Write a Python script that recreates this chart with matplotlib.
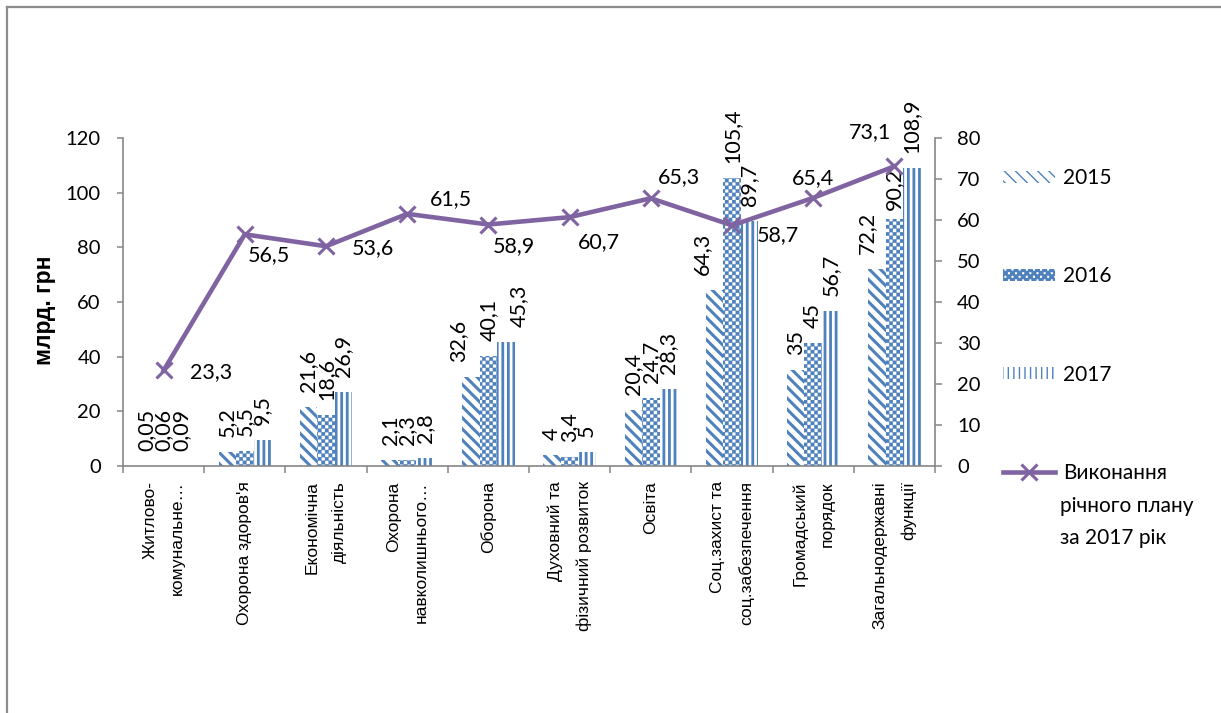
import warnings
import numpy as np
import matplotlib
matplotlib.use("Agg")
import matplotlib.pyplot as plt
import matplotlib.hatch as mhatch
from matplotlib.path import Path
from matplotlib.lines import Line2D

warnings.filterwarnings("ignore")

# ---- data -------------------------------------------------------------
categories = [
    "Житлово-\nкомунальне…",
    "Охорона здоров'я",
    "Економічна\nдіяльність",
    "Охорона\nнавколишнього…",
    "Оборона",
    "Духовний та\nфізичний розвиток",
    "Освіта",
    "Соц.захист та\nсоц.забезпечення",
    "Громадський\nпорядок",
    "Загальнодержавні\nфункції",
]
years = ["2015", "2016", "2017"]
v2015 = [0.05, 5.2, 21.6, 2.1, 32.6, 4, 20.4, 64.3, 35, 72.2]
v2016 = [0.06, 5.5, 18.6, 2.3, 40.1, 3.4, 24.7, 105.4, 45, 90.2]
v2017 = [0.09, 9.5, 26.9, 2.8, 45.3, 5, 28.3, 89.7, 56.7, 108.9]
plan_2017 = [23.3, 56.5, 53.6, 61.5, 58.9, 60.7, 65.3, 58.7, 65.4, 73.1]
plan_label = ["Виконання", "річного плану\nза 2017 рік"]
y_label = "млрд. грн"

# ---- styling ----------------------------------------------------------
BLUE = "#4F81BD"
PURPLE = "#8064A2"
GREY = "#868686"
NUM_FONT = ["Lato", "Open Sans", "DejaVu Sans"]
CAT_FONT = ["Liberation Sans", "DejaVu Sans"]

# label nudges in pixels: (series, category) -> (dx, dy)
bar_label_nudge = {(0, 4): (-13, 0), (2, 4): (13, 0), (0, 7): (-13, 0),
                   (0, 9): (-10, 0), (1, 9): (0, -6)}
# value label offsets (pixels) for the line points, text left-anchored
line_label_offset = [(26, -2), (3, -21), (26, -2), (23, 15), (4, -22),
                     (8, -25), (7, 21), (25, -10), (-21, 20), (-46, 34)]


class CheckerHatch(mhatch.HatchPatternBase):
    """Small checkerboard fill, selected with the 'c' hatch character."""

    def __init__(self, hatch, density):
        self.num_cells = int(hatch.count("c") * 7)
        n = self.num_cells
        self.num_vertices = (n * n // 2) * 5 if n else 0

    def set_vertices_and_codes(self, vertices, codes):
        n = self.num_cells
        s = 1.0 / n
        k = 0
        sq_codes = [Path.MOVETO, Path.LINETO, Path.LINETO, Path.LINETO,
                    Path.CLOSEPOLY]
        for i in range(n):
            for j in range(n):
                if (i + j) % 2 == 0:
                    x0, y0 = i * s, j * s
                    vertices[k:k + 5] = [(x0, y0), (x0 + s, y0),
                                         (x0 + s, y0 + s), (x0, y0 + s),
                                         (x0, y0)]
                    codes[k:k + 5] = sq_codes
                    k += 5


mhatch._hatch_types.append(CheckerHatch)

W, H = 1221, 713
fig = plt.figure(figsize=(W / 100, H / 100), dpi=100)
fig.patch.set_facecolor("white")
ax = fig.add_axes([123 / W, 1 - 466 / H, (935 - 123) / W, 328 / H])
ax2 = ax.twinx()

x = np.arange(len(categories))
width = 0.215
series = [v2015, v2016, v2017]
hatch_styles = [("\\\\\\", 2.2), ("cccc", 0.2), ("|||", 2.0)]
containers = []
for k, (vals, (hp, hlw)) in enumerate(zip(series, hatch_styles)):
    with plt.rc_context({"hatch.linewidth": hlw}):
        bars = ax.bar(x + (k - 1) * width, vals, width, facecolor="white",
                      edgecolor=BLUE, linewidth=0, hatch=hp, label=years[k])
        for b in bars:
            if hasattr(b, "set_hatch_linewidth"):
                b.set_hatch_linewidth(hlw)
    containers.append(bars)
    for i, (b, v) in enumerate(zip(bars, vals)):
        dx, dy = bar_label_nudge.get((k, i), (0, 0))
        ax.annotate(f"{v:g}".replace(".", ","),
                    xy=(b.get_x() + b.get_width() / 2, v),
                    xytext=(dx, 15 + dy), textcoords="offset pixels",
                    rotation=90, ha="center", va="bottom",
                    fontsize=15.5, family=NUM_FONT, color="black")

line, = ax2.plot(x, plan_2017, color=PURPLE, lw=3.3, marker="x", ms=11,
                 mew=2.2, zorder=5)
for xi, v, (dx, dy) in zip(x, plan_2017, line_label_offset):
    ax2.annotate(f"{v:g}".replace(".", ","), xy=(xi, v), xytext=(dx, dy),
                 textcoords="offset pixels", ha="left", va="center",
                 fontsize=15.5, family=NUM_FONT, color="black")

# axes
ax.set_xlim(-0.5, len(categories) - 0.5)
ax.set_ylim(0, 120)
ax2.set_ylim(0, 80)
ax.set_yticks(range(0, 121, 20))
ax2.set_yticks(range(0, 81, 10))
ax.set_xticks(x)
ax.set_xticklabels(categories, rotation=90, ha="center", va="top",
                   multialignment="right", linespacing=2.05, fontsize=12.5,
                   family=CAT_FONT)
ax.set_xticks(np.arange(-0.5, len(categories), 1), minor=True)
ax.tick_params(axis="x", which="major", length=0, pad=11)
ax.tick_params(axis="x", which="minor", length=5, width=1.1, color=GREY,
               direction="out")
ax.tick_params(axis="y", length=4, width=1.1, color=GREY, pad=12,
               labelsize=14.5)
ax2.tick_params(axis="y", length=5, width=1.1, color=GREY, pad=11,
                labelsize=14.5)
for lab in ax.get_yticklabels() + ax2.get_yticklabels():
    lab.set_family(NUM_FONT)

for a in (ax, ax2):
    for s in a.spines.values():
        s.set_visible(False)
ax.spines["left"].set_visible(True)
ax.spines["bottom"].set_visible(True)
ax2.spines["right"].set_visible(True)
for s in (ax.spines["left"], ax.spines["bottom"], ax2.spines["right"]):
    s.set_color(GREY)
    s.set_linewidth(1.2)

fig.text(45 / W, 1 - 310 / H, y_label, rotation=90, ha="center",
         va="center", fontsize=16.5, fontweight="bold", family=CAT_FONT)

# legend
leg = ax.legend(containers + [line], years + [plan_label[0]],
                loc="upper left", bbox_to_anchor=(1003 / W, 1 - 168 / H),
                bbox_transform=fig.transFigure, frameon=False,
                borderpad=0, borderaxespad=0, handlelength=2.5,
                handleheight=0.5, handletextpad=0.4, labelspacing=3.76,
                prop={"family": NUM_FONT, "size": 15})
fig.text(1060 / W, 1 - 496 / H, plan_label[1], ha="left", va="top",
         fontsize=15, family=NUM_FONT, linespacing=1.77)

# outer frame of the chart area
frame_kw = dict(transform=fig.transFigure, color="#8c8c8c", lw=1.6)
fig.add_artist(Line2D([7.5 / W, 7.5 / W], [0, 1 - 6.5 / H], **frame_kw))
fig.add_artist(Line2D([7.5 / W, 1], [1 - 6.5 / H, 1 - 6.5 / H], **frame_kw))

fig.savefig("out.png", dpi=100, facecolor="white")
